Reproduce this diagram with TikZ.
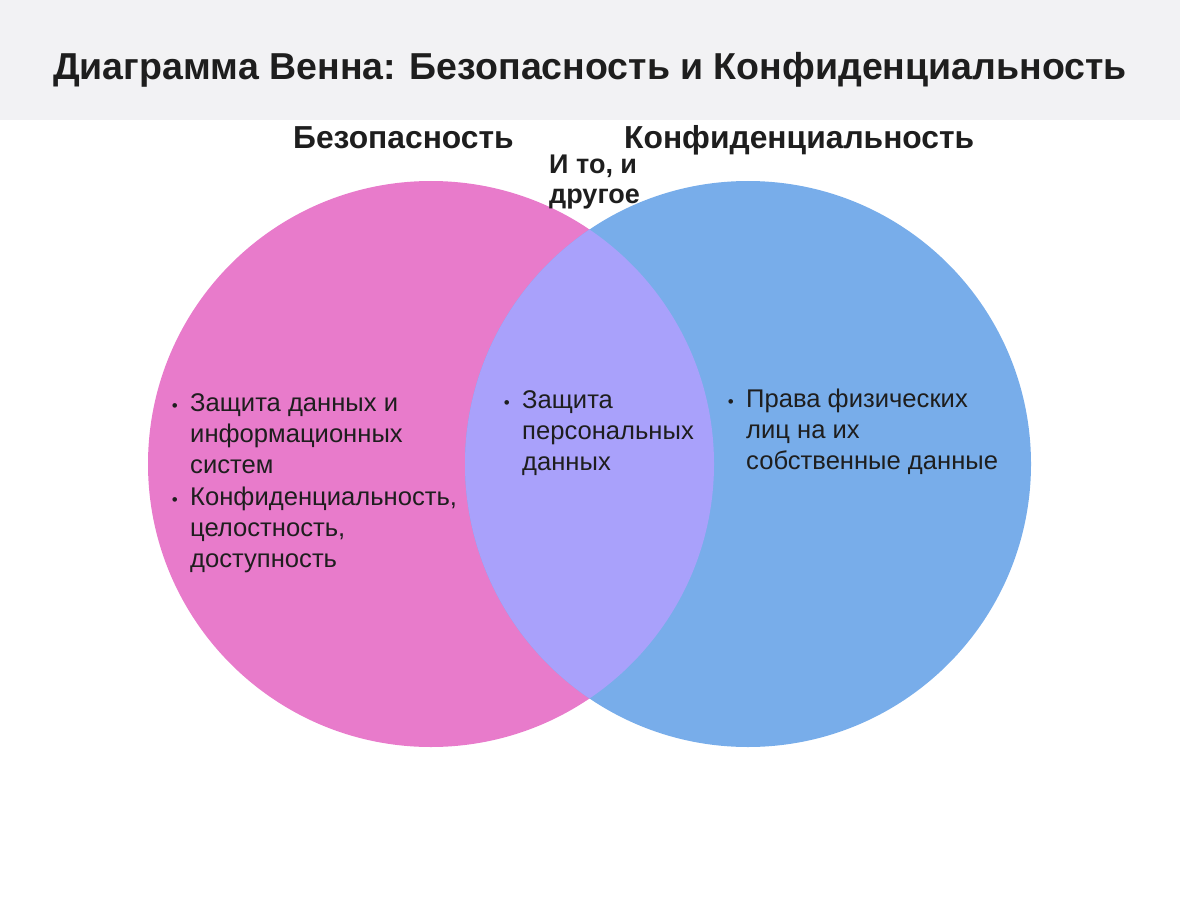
\documentclass[tikz,border=0pt]{standalone}
\usepackage{fontspec}
\setmainfont{Liberation Sans}
\usetikzlibrary{positioning}
\definecolor{secpink}{HTML}{E87BCB}
\definecolor{privblue}{HTML}{78ADEA}
\definecolor{bothlilac}{HTML}{A9A1FB}
\definecolor{bandgray}{HTML}{F2F2F4}
\definecolor{inkdark}{HTML}{1E1E1E}

\begin{document}
\begin{tikzpicture}[x=1pt,y=-1pt,
    body/.style={font=\fontsize{25.6}{31}\selectfont, text=inkdark, align=left, inner sep=0pt, anchor=base west},
    dot/.style={font=\fontsize{17}{17}\selectfont, text=inkdark, inner sep=0pt, anchor=base east},
    head/.style={font=\fontsize{31.8}{31.8}\selectfont\bfseries, text=inkdark, inner sep=0pt, anchor=base west}]
    \useasboundingbox (0,0) rectangle (1180,912);
    \fill[bandgray] (0,0) rectangle (1180,120);
    \node[font=\fontsize{37.5}{37.5}\selectfont\bfseries, text=inkdark, inner sep=0pt, anchor=base] (title) at (590,80) {Диаграмма Венна: Безопасность и Конфиденциальность};

    % circles
    \coordinate (sec) at (431,464);
    \coordinate (priv) at (748,464);
    \fill[secpink] (sec) circle (283);
    \fill[privblue] (priv) circle (283);
    \begin{scope}
        \clip (sec) circle (283);
        \fill[bothlilac] (priv) circle (283);
    \end{scope}

    % headings
    \node[head] (sechead) at (293,149) {Безопасность};
    \node[head] (privhead) at (624,149) {Конфиденциальность};
    \node[head, font=\fontsize{27}{30}\selectfont\bfseries, align=left] (bothhead) at (549,204) {И то, и\\другое};

    % items (anchor = baseline of last line)
    \node[body] (secA) at (190,473) {Защита данных и\\информационных\\систем};
    \node[body] (secB) at (190,567) {Конфиденциальность,\\целостность,\\доступность};
    \node[body] (bothA) at (522,470) {Защита\\персональных\\данных};
    \node[body] (privA) at (746,469) {Права физических\\лиц на их\\собственные данные};

    \node[dot] (dotsecA) at ([xshift=-12pt,yshift=62pt]secA.base west) {•};
    \node[dot] (dotsecB) at ([xshift=-12pt,yshift=62pt]secB.base west) {•};
    \node[dot] (dotbothA) at ([xshift=-12pt,yshift=62pt]bothA.base west) {•};
    \node[dot] (dotprivA) at ([xshift=-12pt,yshift=62pt]privA.base west) {•};
\end{tikzpicture}
\end{document}
